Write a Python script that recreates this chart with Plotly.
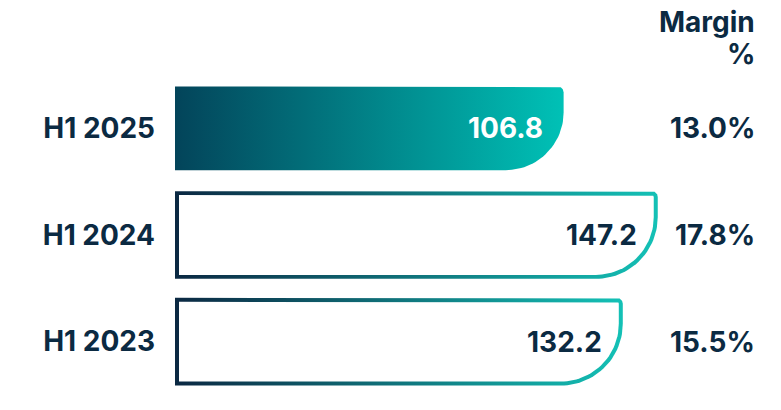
import numpy as np
import plotly.graph_objects as go

# -----------------------------------------------------------------------------
# Données
# -----------------------------------------------------------------------------
periods = ["H1 2025", "H1 2024", "H1 2023"]
values = [106.8, 147.2, 132.2]
margins = ["13.0%", "17.8%", "15.5%"]
highlight = [True, False, False]

NAVY = "#0b2a42"
FILL_SCALE = [[0, "#03445a"], [1, "#00c1b6"]]
LINE_SCALE = [[0, "#0b2842"], [1, "#14c1b6"]]
FONT = "Inter"
FS = 28

# -----------------------------------------------------------------------------
# Mise en page (pixels -> unités de données)
# la page HTML ajoute 8 px de marge au body, on compense ici
# -----------------------------------------------------------------------------
W, H = 781, 410
M_L, M_R, M_T, M_B = 167, 32, 66.5, 22.5
X_RANGE = [-60, 189.8]
Y_RANGE = [2.5, -0.5]
PX_X = (W - M_L - M_R) / (X_RANGE[1] - X_RANGE[0])
PX_Y = (H - M_T - M_B) / (Y_RANGE[0] - Y_RANGE[1])

BAR_H = 84      # hauteur de barre (px)
STROKE = 4      # épaisseur du contour (px)
R_TOP = 6       # rayon coin haut-droit (px)
R_BOT = 60      # rayon coin bas-droit (px)


def bar_path(x0, x1, yc, h_px, rt_px, rb_px, inset=0, n=30):
    """Contour d'une barre aux coins droits arrondis, en coordonnées de données."""
    x0 = x0 + inset / PX_X
    x1 = x1 - inset / PX_X
    h_px = h_px - 2 * inset
    rt_px = max(rt_px - inset, 0.5)
    rb_px = max(rb_px - inset, 0.5)
    top = yc - h_px / 2 / PX_Y
    bot = yc + h_px / 2 / PX_Y
    rtx, rty = rt_px / PX_X, rt_px / PX_Y
    rbx, rby = rb_px / PX_X, rb_px / PX_Y

    xs, ys = [x0, x1 - rtx], [top, top]
    a = np.linspace(-np.pi / 2, 0, n)
    xs += list(x1 - rtx + rtx * np.cos(a))
    ys += list(top + rty + rty * np.sin(a))
    a = np.linspace(0, np.pi / 2, n)
    xs += list(x1 - rbx + rbx * np.cos(a))
    ys += list(bot - rby + rby * np.sin(a))
    xs += [x0, x0]
    ys += [bot, top]
    return xs, ys


fig = go.Figure()
base = X_RANGE[0]

for i, (val, hl) in enumerate(zip(values, highlight)):
    if hl:
        xs, ys = bar_path(base, val, i, BAR_H, R_TOP, R_BOT - 2)
        fig.add_trace(
            go.Scatter(
                x=xs, y=ys, mode="lines", line=dict(width=0),
                fill="toself",
                fillgradient=dict(type="horizontal", colorscale=FILL_SCALE),
                hoverinfo="skip", showlegend=False,
            )
        )
    else:
        outer_h = BAR_H + STROKE
        xs, ys = bar_path(base, val, i, outer_h, R_TOP, R_BOT + 2)
        fig.add_trace(
            go.Scatter(
                x=xs, y=ys, mode="lines", line=dict(width=0),
                fill="toself",
                fillgradient=dict(type="horizontal", colorscale=LINE_SCALE),
                hoverinfo="skip", showlegend=False,
            )
        )
        xs, ys = bar_path(base, val, i, outer_h, R_TOP, R_BOT + 2, inset=STROKE)
        fig.add_trace(
            go.Scatter(
                x=xs, y=ys, mode="lines", line=dict(width=0),
                fill="toself", fillcolor="white",
                hoverinfo="skip", showlegend=False,
            )
        )

    # valeur dans la barre
    fig.add_annotation(
        x=val, y=i, text=f"{val:.1f}", showarrow=False,
        xanchor="right", xshift=-19,
        font=dict(family=FONT, size=FS, weight="bold",
                  color="white" if hl else NAVY),
    )
    # marge à droite
    fig.add_annotation(
        x=1, xref="paper", y=i, text=margins[i], showarrow=False,
        xanchor="right",
        font=dict(family=FONT, size=FS, weight="bold", color=NAVY),
    )

# en-tête de colonne
for txt, shift in [("Margin", 53), ("%", 21)]:
    fig.add_annotation(
        x=1, xref="paper", y=1, yref="paper", yanchor="middle", yshift=shift,
        text=txt, xanchor="right", showarrow=False,
        font=dict(family=FONT, size=FS, weight="bold", color=NAVY),
    )

fig.update_layout(
    width=W, height=H,
    margin=dict(l=M_L, r=M_R, t=M_T, b=M_B, pad=0),
    plot_bgcolor="white", paper_bgcolor="white",
    xaxis=dict(range=X_RANGE, visible=False, fixedrange=True),
    yaxis=dict(
        range=Y_RANGE, tickvals=list(range(len(periods))), ticktext=periods,
        showgrid=False, zeroline=False, showline=False, ticks="",
        ticklabelstandoff=19,
        tickfont=dict(family=FONT, size=FS, weight="bold", color=NAVY),
        fixedrange=True,
    ),
)

fig.write_html("out.html")
